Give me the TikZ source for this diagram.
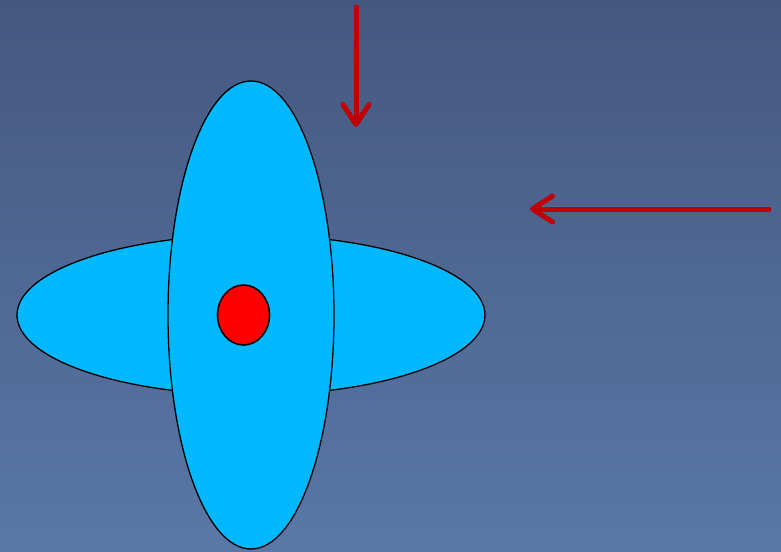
\documentclass[tikz,border=0pt]{standalone}
\usetikzlibrary{arrows.meta}
\definecolor{bgtop}{HTML}{44587F}
\definecolor{bgbot}{HTML}{5A77A8}
\definecolor{lobe}{HTML}{00B8FF}
\definecolor{arrowred}{HTML}{C00000}
\tikzset{
  lobestyle/.style={draw=black, line width=1.3pt, fill=lobe},
  corestyle/.style={draw=black, line width=1.6pt, fill=red},
  beam/.style={draw=arrowred, line width=5pt, line cap=round,
    -{Straight Barb[length=20pt,width=26pt,line cap=round,line join=round]}}
}
\begin{document}
\begin{tikzpicture}[x=1pt,y=-1pt]
\shade[top color=bgtop, bottom color=bgbot] (0,0) rectangle (781,551);
\useasboundingbox (0,0) rectangle (781,551);
\coordinate (c) at (251,315);
\draw[lobestyle] (c) ellipse [x radius=234, y radius=80];
\draw[lobestyle] (c) ellipse [x radius=83, y radius=234];
\draw[corestyle] (243.5,315) ellipse [x radius=26, y radius=30];
\coordinate (vtop) at (356,7);
\coordinate (vend) at (356,127);
\coordinate (hstart) at (769,209);
\coordinate (hend) at (530,209);
\draw[beam] (vtop) -- (vend);
\draw[beam] (hstart) -- (hend);
\end{tikzpicture}
\end{document}
